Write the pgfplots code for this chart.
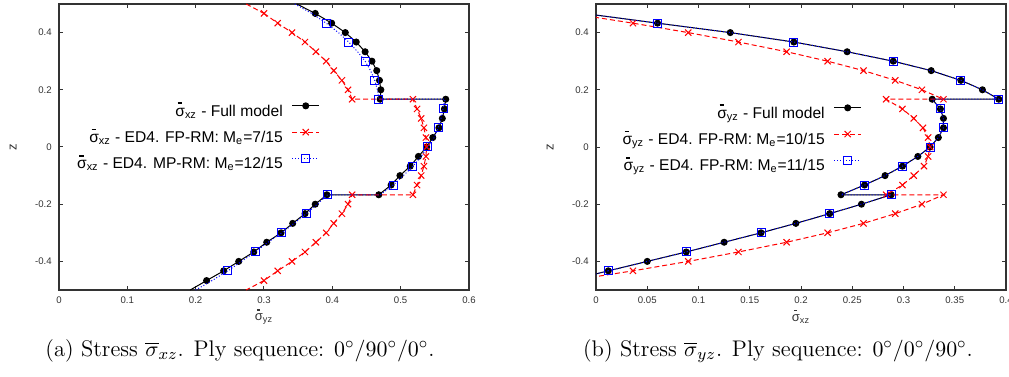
\documentclass[border=0pt]{standalone}
\usepackage{pgfplots}
\pgfplotsset{compat=1.18}
\usepackage{fontspec}
\newfontfamily\arial{Liberation Sans}
\newcommand{\sbar}{\leavevmode\rlap{\hspace{0.15em}\rule[0.78em]{0.27em}{0.1em}}σ}
\definecolor{frame}{gray}{0.2}
\pgfplotsset{
  gp/.style={
    scale only axis, width=205pt, height=143pt,
    ymin=-0.5, ymax=0.5,
    ytick={-0.4,-0.2,0,0.2,0.4}, yticklabels={-0.4,-0.2,0,0.2,0.4},
    tick align=inside, major tick length=2pt,
    axis line style={line width=0.9pt, color=frame},
    every tick/.style={frame, line width=0.5pt},
    ticklabel style={font=\arial\fontsize{4.8}{5}\selectfont, text=frame, inner sep=0pt},
    xticklabel style={anchor=center, yshift=-5pt},
    yticklabel style={anchor=east, xshift=-3.5pt},
    label style={font=\arial\fontsize{6.5}{7}\selectfont, text=frame},
    x label style={at={(axis description cs:0.5,-0.094)}, anchor=center},
    y label style={at={(axis description cs:-0.112,0.5)}, anchor=center},
    clip marker paths=true,
    legend cell align=right, legend plot pos=right,
    legend image code/.code={%
      \draw[##1, mark=none] (0pt,0.25em) -- (13.5pt,0.25em);
      \path[##1, mark repeat=1, mark phase=1] plot coordinates {(6.75pt,0.25em)};},
  },
  full/.style={black, line width=0.5pt, mark=*, mark size=1.5pt, mark options={solid, fill=black}},
  redl/.style={red, line width=0.5pt, dash pattern=on 2.5pt off 1.5pt, mark=x, mark size=2.2pt, mark options={solid}},
  bluel/.style={blue, line width=0.5pt, dash pattern=on 0.5pt off 1pt, mark=square, mark size=2pt, mark options={solid}},
}
\begin{document}
\begin{tikzpicture}
% ---------------- left ----------------
\begin{axis}[gp, at={(29.5pt,-145pt)}, anchor=south west,
  xmin=0, xmax=0.6,
  xtick={0,0.1,0.2,0.3,0.4,0.5,0.6}, xticklabels={0,0.1,0.2,0.3,0.4,0.5,0.6},
  xlabel={\sbar\textsubscript{yz}}, ylabel={z},
  legend style={at={(axis description cs:0.637,0.671)}, anchor=north east, draw=none, fill=none,
    font=\arial\fontsize{7.8}{9}\selectfont, row sep=0.75pt, column sep=2.5pt, inner sep=0pt},
]
\addplot[full] coordinates {
(0.375,0.467) (0.399,0.433) (0.419,0.400) (0.435,0.367) (0.448,0.333) (0.458,0.300)
(0.465,0.267) (0.469,0.233) (0.471,0.200) (0.470,0.167) (0.566,0.167) (0.564,0.133)
(0.561,0.100) (0.556,0.067) (0.547,0.033) (0.538,0.000) (0.526,-0.033) (0.514,-0.067)
(0.499,-0.100) (0.486,-0.133) (0.468,-0.167) (0.392,-0.167) (0.375,-0.200) (0.360,-0.233)
(0.342,-0.267) (0.325,-0.300) (0.304,-0.333) (0.285,-0.367) (0.263,-0.400) (0.241,-0.433)
(0.216,-0.467)};
\addlegendentry{\sbar\textsubscript{xz} - Full model}
\addplot[full, mark=none, forget plot] coordinates {(0.348,0.5) (0.375,0.467)};
\addplot[full, mark=none, forget plot] coordinates {(0.216,-0.467) (0.192,-0.5)};
\addplot[redl] coordinates {
(0.300,0.467) (0.320,0.433) (0.341,0.400) (0.360,0.367) (0.376,0.333) (0.391,0.300)
(0.402,0.267) (0.414,0.233) (0.423,0.200) (0.429,0.167) (0.518,0.167) (0.524,0.133)
(0.530,0.100) (0.534,0.067) (0.537,0.033) (0.538,0.000) (0.537,-0.033) (0.534,-0.067)
(0.530,-0.100) (0.524,-0.133) (0.518,-0.167) (0.429,-0.167) (0.423,-0.200) (0.414,-0.233)
(0.402,-0.267) (0.391,-0.300) (0.376,-0.333) (0.360,-0.367) (0.341,-0.400) (0.320,-0.433)
(0.300,-0.467)};
\addlegendentry{\sbar\textsubscript{xz} - ED4. FP-RM: M\textsubscript{e}=7/15}
\addplot[redl, mark=none, forget plot] coordinates {(0.274,0.5) (0.300,0.467)};
\addplot[redl, mark=none, forget plot] coordinates {(0.300,-0.467) (0.274,-0.5)};
\addplot[bluel, mark repeat=2, mark phase=2] coordinates {
(0.370,0.467) (0.391,0.433) (0.409,0.400) (0.424,0.367) (0.437,0.333)
(0.448,0.300) (0.456,0.267) (0.462,0.233) (0.466,0.200) (0.468,0.167) (0.565,0.167)
(0.562,0.133) (0.559,0.100) (0.555,0.067) (0.549,0.033) (0.540,0.000) (0.530,-0.033)
(0.518,-0.067) (0.504,-0.100) (0.489,-0.133) (0.470,-0.167) (0.393,-0.167) (0.378,-0.200)
(0.362,-0.233) (0.344,-0.267) (0.326,-0.300) (0.306,-0.333) (0.287,-0.367) (0.267,-0.400)
(0.247,-0.433) (0.224,-0.467)};
\addlegendentry{\sbar\textsubscript{xz} - ED4. MP-RM: M\textsubscript{e}=12/15}
\addplot[bluel, mark=none, forget plot] coordinates {(0.345,0.5) (0.370,0.467)};
\addplot[bluel, mark=none, forget plot] coordinates {(0.224,-0.467) (0.200,-0.5)};
\end{axis}
% ---------------- right ----------------
\begin{axis}[gp, at={(298pt,-145pt)}, anchor=south west,
  xmin=0, xmax=0.4,
  xtick={0,0.05,0.1,0.15,0.2,0.25,0.3,0.35,0.4}, xticklabels={0,0.05,0.1,0.15,0.2,0.25,0.3,0.35,0.4},
  xlabel={\sbar\textsubscript{xz}}, ylabel={z},
  legend style={at={(axis description cs:0.649,0.664)}, anchor=north east, draw=none, fill=none,
    font=\arial\fontsize{7.8}{9}\selectfont, row sep=0.75pt, column sep=2.5pt, inner sep=0pt},
]
\addplot[full] coordinates {
(-0.012,0.467) (0.060,0.433) (0.131,0.400) (0.193,0.367) (0.245,0.333) (0.290,0.300)
(0.327,0.267) (0.356,0.233) (0.377,0.200) (0.393,0.167) (0.328,0.167) (0.336,0.133)
(0.339,0.100) (0.339,0.067) (0.334,0.033) (0.326,0.000) (0.314,-0.033) (0.299,-0.067)
(0.282,-0.100) (0.262,-0.133) (0.239,-0.167) (0.288,-0.167) (0.259,-0.200) (0.228,-0.233)
(0.195,-0.267) (0.161,-0.300) (0.125,-0.333) (0.088,-0.367) (0.050,-0.400) (0.012,-0.433)
(-0.026,-0.467)};
\addlegendentry{\sbar\textsubscript{yz} - Full model}
\addplot[redl] coordinates {
(-0.025,0.467) (0.036,0.433) (0.090,0.400) (0.139,0.367) (0.186,0.333) (0.226,0.300)
(0.261,0.267) (0.292,0.233) (0.318,0.200) (0.339,0.167) (0.283,0.167) (0.299,0.133)
(0.310,0.100) (0.319,0.067) (0.324,0.033) (0.326,0.000) (0.324,-0.033) (0.320,-0.067)
(0.310,-0.100) (0.299,-0.133) (0.283,-0.167) (0.339,-0.167) (0.318,-0.200) (0.292,-0.233)
(0.261,-0.267) (0.226,-0.300) (0.186,-0.333) (0.139,-0.367) (0.090,-0.400) (0.036,-0.433)
(-0.025,-0.467)};
\addlegendentry{\sbar\textsubscript{yz} - ED4. FP-RM: M\textsubscript{e}=10/15}
\addplot[bluel, mark repeat=2, mark phase=1] coordinates {
(0.060,0.433) (0.131,0.400) (0.193,0.367) (0.245,0.333) (0.290,0.300)
(0.327,0.267) (0.356,0.233) (0.377,0.200) (0.393,0.167) (0.328,0.167) (0.336,0.133)
(0.339,0.100) (0.339,0.067) (0.334,0.033) (0.326,0.000) (0.314,-0.033) (0.299,-0.067)
(0.282,-0.100) (0.262,-0.133) (0.239,-0.167) (0.288,-0.167) (0.259,-0.200) (0.228,-0.233)
(0.195,-0.267) (0.161,-0.300) (0.125,-0.333) (0.088,-0.367) (0.050,-0.400) (0.012,-0.433)};
\addlegendentry{\sbar\textsubscript{yz} - ED4. FP-RM: M\textsubscript{e}=11/15}
\addplot[bluel, mark=none, forget plot] coordinates {(-0.012,0.467) (0.060,0.433)};
\addplot[bluel, mark=none, forget plot] coordinates {(0.012,-0.433) (-0.026,-0.467)};
\end{axis}
\node[anchor=base, font=\fontsize{11.3}{13}\selectfont] at (120pt,-178pt)
  {(a) Stress $\overline{\sigma}_{xz}$. Ply sequence: $0^\circ/90^\circ/0^\circ$.};
\node[anchor=base, font=\fontsize{11.3}{13}\selectfont] at (389pt,-178pt)
  {(b) Stress $\overline{\sigma}_{yz}$. Ply sequence: $0^\circ/0^\circ/90^\circ$.};
\pgfresetboundingbox
\path[use as bounding box] (0,0) rectangle (504.5pt,-188pt);
\end{tikzpicture}
\end{document}
